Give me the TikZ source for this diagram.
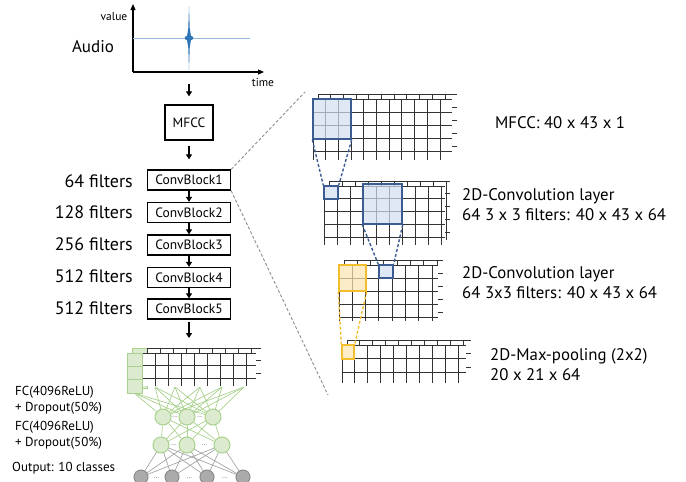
\documentclass[tikz,border=0pt]{standalone}
\usepackage{fontspec}
\setmainfont{PT Sans}
\usetikzlibrary{arrows.meta,positioning,backgrounds}

\definecolor{convblue}{HTML}{3B5B92}
\definecolor{convbluefill}{HTML}{D3DEF2}
\definecolor{poolgold}{HTML}{F2BE2E}
\definecolor{poolfill}{HTML}{FCE5B0}
\definecolor{fcgreen}{HTML}{A9D18E}
\definecolor{fcfill}{HTML}{DCEBCF}
\definecolor{outgray}{HTML}{8C8C8C}
\definecolor{outfill}{HTML}{ABABAB}
\definecolor{wave}{HTML}{2E75B6}

% feature map: left, top, cells across, cells down, cell w, cell h, right end, bottom end
\newcommand{\featmap}[8]{%
  \begin{scope}[shift={(5,-5)}]
    \foreach \i in {0,...,#3} \draw[gridline] ({#1+\i*#5},#2) -- ({#1+\i*#5},#8);
    \foreach \j in {0,...,#4} \draw[gridline] (#1,{#2+\j*#6}) -- (#7,{#2+\j*#6});
  \end{scope}
  \fill[white] (#1,#2) rectangle (#7,#8);
  \foreach \i in {0,...,#3} \draw[gridline] ({#1+\i*#5},#2) -- ({#1+\i*#5},#8);
  \foreach \j in {0,...,#4} \draw[gridline] (#1,{#2+\j*#6}) -- (#7,{#2+\j*#6});
}

\begin{document}
\begin{tikzpicture}[x=1pt, y=-1pt,
    gridline/.style={black!80, line width=0.9pt},
    block/.style={draw, line width=1.3pt, fill=white, minimum width=83, minimum height=20, inner sep=0pt, font=\fontsize{13.5}{15}\selectfont},
    flow/.style={-{Triangle[length=5pt,width=6pt]}, line width=1.6pt},
    plotaxis/.style={-{Triangle[length=6pt,width=5pt]}, line width=1.1pt},
    zoomline/.style={densely dashed, black!45, line width=0.9pt},
    kernwin/.style={draw=convblue, line width=1.4pt, fill=convbluefill, fill opacity=0.7, inner sep=0pt},
    poolwin/.style={draw=poolgold, line width=1.4pt, fill=poolfill, fill opacity=0.7, inner sep=0pt},
    proj/.style={line width=1.4pt, dash pattern=on 3pt off 2pt},
    fcunit/.style={circle, draw=fcgreen, fill=fcfill, line width=1pt, minimum size=16, inner sep=0pt},
    outunit/.style={circle, draw=outgray, fill=outfill, line width=1pt, minimum size=14, inner sep=0pt},
    fcedge/.style={fcgreen, line width=0.7pt},
    outedge/.style={black!35, line width=0.7pt},
    netdots/.style={font=\fontsize{7}{7}\selectfont, text=black!60, inner sep=0pt},
    maplabel/.style={font=\fontsize{16.8}{20}\selectfont, align=left, anchor=west, inner sep=0pt},
    filt/.style={font=\fontsize{18}{20}\selectfont, anchor=east, inner sep=0pt},
    fclabel/.style={font=\fontsize{13}{16}\selectfont, align=left, anchor=west, inner sep=0pt},
    axlabel/.style={font=\fontsize{11.5}{13}\selectfont, inner sep=0pt}
]
\useasboundingbox (0,0) rectangle (686,482);

% ---- audio plot ----
\coordinate (orig) at (133,72);
\coordinate (ytop) at (133,4);
\coordinate (xend) at (264,72);
\draw[plotaxis] (orig) -- (ytop);
\draw[plotaxis] (orig) -- (xend);
\node[axlabel] (val) at (114,17) {value};
\node[axlabel] (tm) at (263,82) {time};
\node[font=\fontsize{17}{20}\selectfont, inner sep=0pt] (audio) at (93,47) {Audio};
\draw[wave!50, line width=0.9pt] (133,38) -- (250,38);
\fill[wave] (189,6) -- (189.7,28) -- (190.8,35) -- (191.5,38) -- (190.8,41) -- (189.7,48) -- (189,70)
  -- (188.3,48) -- (187.2,41) -- (186.5,38) -- (187.2,35) -- (188.3,28) -- cycle;
\fill[wave] (189,38) ellipse (4.5 and 2.5);
\coordinate (sig) at (189,84);

% ---- blocks ----
\node[block, minimum width=48, minimum height=35] (mfcc) at (189,122.5) {MFCC};
\node[block] (cb1) at (189,180) {ConvBlock1};
\node[block] (cb2) at (189,212.5) {ConvBlock2};
\node[block] (cb3) at (189,245) {ConvBlock3};
\node[block] (cb4) at (189,277.5) {ConvBlock4};
\node[block] (cb5) at (189,309) {ConvBlock5};
\coordinate (fcin) at (189,348);

\node[filt] (f1) at (133,181) {64 filters};
\node[filt] (f2) at (133,212.5) {128 filters};
\node[filt] (f3) at (133,244) {256 filters};
\node[filt] (f4) at (133,276) {512 filters};
\node[filt] (f5) at (133,308) {512 filters};

% ---- arrows ----
\draw[flow, shorten >=8pt] (sig) -- (mfcc.north);
\draw[flow, shorten <=5pt, shorten >=10pt] (mfcc.south) -- (cb1.north);
\draw[flow] (cb1) -- (cb2);
\draw[flow] (cb2) -- (cb3);
\draw[flow] (cb3) -- (cb4);
\draw[flow] (cb4) -- (cb5);
\draw[flow, shorten <=2pt, shorten >=10pt] (cb5.south) -- (fcin);

% ---- zoom into ConvBlock1 ----
\coordinate (zt) at (305,92);
\coordinate (zb) at (328,395);
\draw[zoomline] (cb1.north east) -- (zt);
\draw[zoomline] (cb1.south east) -- (zb);

% ---- feature maps ----
\featmap{313}{99}{10}{4}{12.7}{13.2}{452}{160}
\featmap{324}{186}{9}{4}{13}{12.75}{445}{245}
\featmap{339}{265}{7}{4}{13.3}{13.2}{438}{321}
\featmap{342}{345}{9}{2}{12.9}{13.5}{466}{383}

\node[kernwin, minimum width=38, minimum height=40] (k1) at (332,119) {};
\node[kernwin, minimum width=14, minimum height=13] (s1) at (331,192.5) {};
\node[kernwin, minimum width=39, minimum height=40] (k2) at (382.5,204) {};
\node[kernwin, minimum width=14, minimum height=13] (s2) at (386,271.5) {};
\node[poolwin, minimum width=27, minimum height=26] (p1) at (352.5,278) {};
\node[poolwin, minimum width=12, minimum height=14] (p2) at (348,352) {};

\draw[proj, convblue] (k1.south west) -- (s1.north west);
\draw[proj, convblue] (k1.south east) -- (s1.north east);
\draw[proj, convblue] (k2.south west) -- (s2.north west);
\draw[proj, convblue] (k2.south east) -- (s2.north east);
\draw[proj, poolgold] (p1.south west) -- (p2.north west);
\draw[proj, poolgold] (p1.south east) -- (p2.north east);

\node[maplabel] (l1) at (495,123) {MFCC: 40 x 43 x 1};
\node[maplabel] (l2) at (462,205) {2D-Convolution layer\\64 3 x 3 filters: 40 x 43 x 64};
\node[maplabel] (l3) at (462,282.5) {2D-Convolution layer\\64 3x3 filters: 40 x 43 x 64};
\node[maplabel] (l4) at (490,365) {2D-Max-pooling (2x2)\\20 x 21 x 64};

% ---- fully connected part ----
\draw[fcgreen, fill=fcfill, line width=1pt] (132,348) rectangle (147,388);
\featmap{142}{353}{8}{2}{13}{12.8}{256}{386}
\draw[fcgreen, fill=fcfill, line width=1pt] (127,353) rectangle (142,393);
\draw[fcgreen, line width=1pt] (127,366.3) -- (142,366.3);
\draw[fcgreen, line width=1pt] (127,379.6) -- (142,379.6);

\coordinate (b1) at (134,393);
\coordinate (b2) at (155,387);
\coordinate (b3) at (175,387);
\coordinate (b4) at (200,387);
\coordinate (b5) at (222,387);
\coordinate (b6) at (244,387);

\node[fcunit] (n11) at (163,417) {};
\node[fcunit] (n12) at (187,417) {};
\node[fcunit] (n13) at (213,417) {};
\node[fcunit] (n21) at (161,445) {};
\node[fcunit] (n22) at (187,445) {};
\node[fcunit] (n23) at (222,445) {};
\node[outunit] (o1) at (141,477) {};
\node[outunit] (o2) at (172,477) {};
\node[outunit] (o3) at (207,477) {};
\node[outunit] (o4) at (243,477) {};

\node[netdots] (d11) at (175,417) {...};
\node[netdots] (d12) at (200,417) {...};
\node[netdots] (d21) at (174,445) {...};
\node[netdots] (d22) at (204.5,445) {...};
\node[netdots] (d31) at (156.5,478) {...};
\node[netdots] (d32) at (189.5,478) {...};
\node[netdots] (d33) at (225,478) {...};

\begin{scope}[on background layer]
  \foreach \i in {1,...,6}
    \foreach \n in {n11,n12,n13} \draw[fcedge] (b\i) -- (\n);
  \foreach \a in {n11,n12,n13}
    \foreach \n in {n21,n22,n23} \draw[fcedge] (\a) -- (\n);
  \foreach \a in {n21,n22,n23}
    \foreach \n in {o1,o2,o3,o4} \draw[outedge] (\a) -- (\n);
\end{scope}

\node[fclabel] (fc1) at (15,400) {FC(4096ReLU)\\+ Dropout(50\%)};
\node[fclabel] (fc2) at (15,435) {FC(4096ReLU)\\+ Dropout(50\%)};
\node[fclabel] (outl) at (12,468) {Output: 10 classes};

\end{tikzpicture}
\end{document}
